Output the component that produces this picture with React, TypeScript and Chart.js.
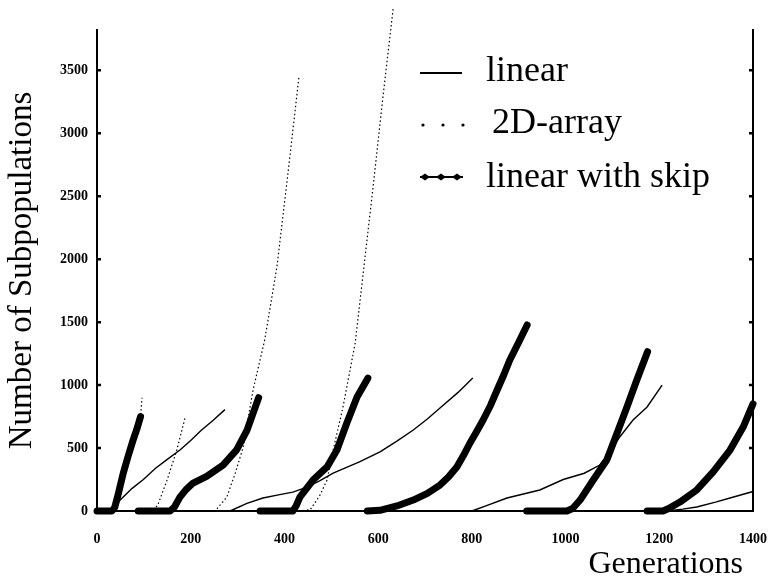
import React, { useEffect, useRef } from "react";
import { Chart, registerables } from "chart.js";

Chart.register(...registerables);

type Pt = [number, number];

// ---- labels / ticks ----
const seriesLabels = ["linear", "2D-array", "linear with skip"];
const xTickValues = [0, 200, 400, 600, 800, 1000, 1200, 1400];
const yTickValues = [0, 500, 1000, 1500, 2000, 2500, 3000, 3500];
const xTitle = "Generations";
const yTitle = "Number of Subpopulations";

// ---- "linear" runs (generation, subpopulations) ----
const linearRun1: Pt[] = [[30, 0], [40, 40], [50, 90], [75, 180], [99, 250], [125, 340], [150, 410], [177, 484], [200, 560], [222, 640], [248, 720], [273, 805]];
const linearRun2: Pt[] = [[284, 0], [320, 60], [354, 103], [390, 130], [418, 150], [448, 190], [475, 240], [504, 300], [560, 390], [604, 470], [640, 555], [675, 643], [705, 730], [732, 818], [770, 940], [802, 1056]];
const linearRun3: Pt[] = [[800, 0], [830, 40], [875, 103], [945, 167], [995, 250], [1040, 300], [1073, 365], [1095, 470], [1116, 590], [1144, 723], [1174, 826], [1206, 1000]];
const linearRun4: Pt[] = [[1216, 0], [1250, 15], [1280, 32], [1320, 70], [1351, 103], [1400, 155]];

// ---- "2D-array" runs ----
const arrayRun1: Pt[] = [[0, 0], [32, 0], [38, 30], [45, 130], [56, 300], [66, 430], [77, 563], [85, 650], [93, 750], [96, 900]];
const arrayRun2: Pt[] = [[96, 0], [120, 0], [130, 50], [150, 250], [170, 480], [188, 740]];
const arrayRun3: Pt[] = [[190, 0], [252, 0], [277, 110], [295, 300], [312, 508], [333, 960], [358, 1360], [384, 1940], [405, 2600], [423, 3185], [431, 3450]];
const arrayRun4: Pt[] = [[431, 0], [455, 10], [475, 120], [491, 246], [504, 484], [525, 826], [551, 1334], [570, 1950], [590, 2600], [610, 3280], [632, 3990]];
const arrayRun5: Pt[] = [[632, 0], [1400, 0]];

// ---- "linear with skip" runs ----
const skipRun1: Pt[] = [[0, 0], [32, 0], [38, 30], [45, 130], [56, 300], [66, 430], [77, 563], [85, 650], [93, 750]];
const skipRun2: Pt[] = [[88, 0], [156, 0], [165, 30], [177, 110], [190, 170], [205, 222], [234, 275], [269, 365], [298, 485], [320, 640], [345, 900]];
const skipRun3: Pt[] = [[348, 0], [418, 0], [425, 40], [433, 110], [461, 246], [491, 350], [512, 484], [533, 697], [555, 905], [578, 1055]];
const skipRun4: Pt[] = [[577, 0], [604, 5], [640, 40], [675, 87], [705, 140], [732, 206], [750, 270], [768, 350], [782, 440], [796, 540], [810, 630], [824, 723], [840, 840], [854, 961], [868, 1080], [881, 1199], [900, 1340], [918, 1477]];
const skipRun5: Pt[] = [[917, 0], [1003, 0], [1015, 20], [1031, 87], [1059, 246], [1088, 405], [1110, 620], [1131, 826], [1152, 1040], [1175, 1265]];
const skipRun6: Pt[] = [[1174, 0], [1208, 0], [1220, 20], [1244, 71], [1280, 167], [1315, 310], [1351, 484], [1379, 667], [1400, 850]];

const linearRuns = [linearRun1, linearRun2, linearRun3, linearRun4];
const arrayRuns = [arrayRun1, arrayRun2, arrayRun3, arrayRun4, arrayRun5];
const skipRuns = [skipRun1, skipRun2, skipRun3, skipRun4, skipRun5, skipRun6];

function joinRuns(runs: Pt[][]) {
  const out: { x: number; y: number | null }[] = [];
  runs.forEach((run, i) => {
    if (i > 0) out.push({ x: run[0][0], y: null });
    run.forEach(([x, y]) => out.push({ x, y }));
  });
  return out;
}

const SERIF = '"Liberation Serif", "Times New Roman", Times, serif';

const decorPlugin = {
  id: "paperDecor",
  afterDraw(chart: any) {
    const { ctx, chartArea } = chart;
    const y = chart.scales.y;
    ctx.save();
    ctx.strokeStyle = "#000";
    ctx.fillStyle = "#000";
    // inward tick marks on left and right axes
    ctx.lineWidth = 2.5;
    yTickValues.forEach((v) => {
      const py = y.getPixelForValue(v);
      if (v === 0) return;
      ctx.beginPath();
      ctx.moveTo(chartArea.left, py);
      ctx.lineTo(chartArea.left + 4, py);
      ctx.moveTo(chartArea.right, py);
      ctx.lineTo(chartArea.right - 4, py);
      ctx.stroke();
    });

    // x-axis title, set slightly in from the right axis
    ctx.font = `32px ${SERIF}`;
    ctx.textAlign = "right";
    ctx.textBaseline = "middle";
    ctx.fillText(xTitle, chartArea.right - 10, 565);

    // legend
    const symX0 = 420;
    const symX1 = 462;
    const textX = 486;
    const baselines = [81, 133, 187];
    const mids = [73, 125, 177];
    ctx.font = `36px ${SERIF}`;
    ctx.textBaseline = "alphabetic";
    ctx.textAlign = "left";
    chart.data.datasets.forEach((ds: any, i: number) => {
      const m = mids[i];
      if (i === 0) {
        ctx.lineWidth = 2;
        ctx.beginPath();
        ctx.moveTo(symX0, m);
        ctx.lineTo(symX1, m);
        ctx.stroke();
      } else if (i === 1) {
        [423, 443, 463].forEach((cx) => {
          ctx.beginPath();
          ctx.arc(cx, m, 1.6, 0, Math.PI * 2);
          ctx.fill();
        });
      } else {
        ctx.lineWidth = 2;
        ctx.beginPath();
        ctx.moveTo(symX0, m);
        ctx.lineTo(symX1 + 1, m);
        ctx.stroke();
        [425, 441, 457].forEach((cx) => {
          ctx.beginPath();
          ctx.moveTo(cx - 5, m);
          ctx.lineTo(cx, m - 3.5);
          ctx.lineTo(cx + 5, m);
          ctx.lineTo(cx, m + 3.5);
          ctx.closePath();
          ctx.fill();
        });
      }
      ctx.fillText(ds.label, textX + (i === 1 ? 6 : 0), baselines[i]);
    });
    ctx.restore();
  },
};

export default function App() {
  const ref = useRef<HTMLCanvasElement>(null);

  useEffect(() => {
    if (!ref.current) return;
    const tickFont = { family: SERIF, size: 14, weight: "bold" as const };
    const chart = new Chart(ref.current, {
      type: "line",
      data: {
        datasets: [
          {
            label: seriesLabels[0],
            data: joinRuns(linearRuns),
            borderColor: "#000",
            borderWidth: 1.4,
            pointRadius: 0,
            fill: false,
            tension: 0,
            spanGaps: false,
            clip: false as any,
            order: 2,
          },
          {
            label: seriesLabels[1],
            data: joinRuns(arrayRuns),
            borderColor: "#000",
            borderWidth: 1.2,
            borderDash: [1.5, 2.5],
            pointRadius: 0,
            fill: false,
            tension: 0,
            spanGaps: false,
            clip: false as any,
            order: 1,
          },
          {
            label: seriesLabels[2],
            data: joinRuns(skipRuns),
            borderColor: "#000",
            borderWidth: 7,
            borderCapStyle: "round",
            borderJoinStyle: "round",
            pointRadius: 0,
            fill: false,
            tension: 0,
            spanGaps: false,
            clip: false as any,
            order: 0,
          },
        ],
      },
      options: {
        animation: false,
        responsive: false,
        devicePixelRatio: 1,
        layout: { padding: { top: 30, left: 0, right: 0, bottom: 0 } },
        plugins: {
          legend: { display: false },
          tooltip: { enabled: false },
        },
        scales: {
          x: {
            type: "linear",
            position: "bottom",
            min: 0,
            max: 1400,
            grid: { display: false, drawTicks: true, tickLength: 20 },
            border: { display: true, color: "#000", width: 2 },
            afterBuildTicks: (s: any) => {
              s.ticks = xTickValues.map((v) => ({ value: v }));
            },
            afterFit: (s: any) => {
              s.height = 71;
            },
            ticks: {
              padding: 0,
              color: "#000",
              font: tickFont,
              maxRotation: 0,
              autoSkip: false,
              callback: (v: any) => String(v),
            },
            title: { display: false },
          },
          y: {
            type: "linear",
            position: "left",
            min: 0,
            max: 3820,
            grid: { display: false, drawTicks: false },
            border: { display: true, color: "#000", width: 2 },
            afterBuildTicks: (s: any) => {
              s.ticks = yTickValues.map((v) => ({ value: v }));
            },
            afterFit: (s: any) => {
              s.width = 97;
            },
            ticks: {
              padding: 9,
              color: "#000",
              font: tickFont,
              autoSkip: false,
              callback: (v: any) => String(v),
            },
            title: {
              display: true,
              text: yTitle,
              align: "center",
              color: "#000",
              font: { family: SERIF, size: 33, lineHeight: 1 },
              padding: { top: 5.5, bottom: 0 },
            },
          },
          y2: {
            type: "linear",
            position: "right",
            min: 0,
            max: 3820,
            grid: { display: false, drawTicks: false },
            border: { display: true, color: "#000", width: 2 },
            ticks: { display: false },
            afterFit: (s: any) => {
              s.width = 16;
            },
          },
        },
      },
      plugins: [decorPlugin],
    } as any);
    return () => chart.destroy();
  }, []);

  return (
    <div style={{ position: "absolute", left: 0, top: 0, width: 769, height: 582, background: "#fff" }}>
      <canvas ref={ref} width={769} height={582} style={{ display: "block", width: 769, height: 582 }} />
    </div>
  );
}
